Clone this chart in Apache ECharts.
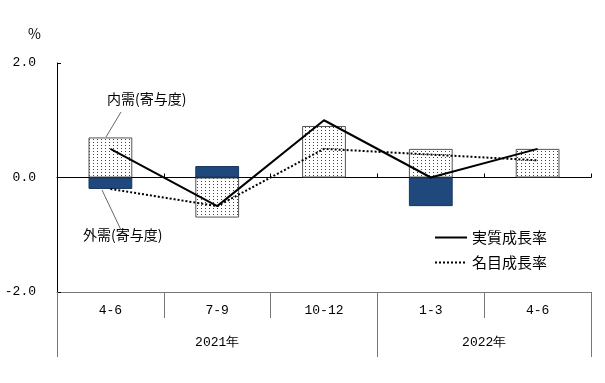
<!DOCTYPE html>
<html><head><meta charset="utf-8">
<script src="https://cdn.jsdelivr.net/npm/echarts@6/dist/echarts.min.js"></script>
<style>html,body{margin:0;padding:0;background:#fff}#c{width:605px;height:383px}</style>
</head><body><div id="c"></div>
<script>
const categories = ['4-6', '7-9', '10-12', '1-3', '4-6'];
const years = ['2021年', '2022年'];
const yearSpans = [3, 2];
const domestic = [0.7, -0.7, 0.9, 0.5, 0.5];
const external = [-0.2, 0.2, 0, -0.5, 0];
const realGrowth = [0.5, -0.5, 1.0, 0.0, 0.5];
const nominalGrowth = [-0.2, -0.5, 0.5, 0.4, 0.3];
const yMin = -2, yMax = 2, yStep = 2;

// year boundaries / centres derived from spans
const yearBounds = [0];
yearSpans.forEach(s => yearBounds.push(yearBounds[yearBounds.length - 1] + s));
const yearCenters = yearSpans.map((s, i) => yearBounds[i] + s / 2);

// dotted pattern for domestic demand bars
const pc = document.createElement('canvas');
pc.width = 4; pc.height = 3;
const pctx = pc.getContext('2d');
pctx.fillStyle = '#ffffff'; pctx.fillRect(0, 0, 4, 3);
pctx.fillStyle = '#444444'; pctx.fillRect(1, 1, 1, 1);

const numFont = 'Liberation Mono';
const jpFont = 'Noto Sans CJK JP';

const chart = echarts.init(document.getElementById('c'));
chart.setOption({
  animation: false,
  title: { text: '%', left: 23, top: 22, textStyle: { fontSize: 14, fontWeight: 'normal', fontFamily: jpFont, color: '#000' } },
  grid: { left: 57, right: 14, top: 63, bottom: 91, containLabel: false },
  legend: {
    orient: 'vertical', left: 429, top: 225, itemWidth: 32, itemHeight: 12, itemGap: 10,
    itemStyle: { opacity: 0 },
    textStyle: { fontFamily: jpFont, fontSize: 15, color: '#000' },
    data: ['実質成長率', '名目成長率']
  },
  xAxis: [
    {
      type: 'category', data: categories, position: 'bottom',
      axisLine: { onZero: true, lineStyle: { color: '#000', width: 1 } },
      axisTick: { show: true, inside: true, length: 4, lineStyle: { color: '#000' } },
      axisLabel: { show: false }, splitLine: { show: false }
    },
    {
      type: 'category', data: categories, position: 'bottom',
      axisLine: { onZero: false, lineStyle: { color: '#777', width: 1 } },
      axisTick: { show: true, inside: false, length: 26, lineStyle: { color: '#777' } },
      axisLabel: { show: true, margin: 12, fontFamily: numFont, fontSize: 13, color: '#000' },
      splitLine: { show: false }
    },
    {
      type: 'value', min: 0, max: yearBounds[yearBounds.length - 1], position: 'bottom',
      axisLine: { show: false, onZero: false },
      axisTick: { show: true, length: 65, customValues: yearBounds, lineStyle: { color: '#777' } },
      axisLabel: {
        show: true, margin: 44, customValues: yearCenters, fontFamily: numFont, fontSize: 13, color: '#000',
        formatter: v => { const i = yearCenters.indexOf(v); return i >= 0 ? years[i] : ''; }
      },
      splitLine: { show: false }
    }
  ],
  yAxis: {
    type: 'value', min: yMin, max: yMax, interval: yStep,
    axisLine: { show: true, onZero: false, lineStyle: { color: '#000' } },
    axisTick: { show: true, inside: true, length: 4, lineStyle: { color: '#000' } },
    axisLabel: { margin: 21, fontFamily: numFont, fontSize: 13, color: '#000', formatter: v => v.toFixed(1) },
    splitLine: { show: false }
  },
  series: [
    {
      name: '内需(寄与度)', type: 'bar', stack: 'a', data: domestic, barWidth: '41%', xAxisIndex: 0,
      itemStyle: { color: { image: pc, repeat: 'repeat' }, borderColor: '#555', borderWidth: 1 }
    },
    {
      name: '外需(寄与度)', type: 'bar', stack: 'a', data: external.map(v => (v === 0 ? '-' : v)), barWidth: '41%', xAxisIndex: 0,
      itemStyle: { color: '#1F497D', borderColor: '#17375E', borderWidth: 1 }
    },
    {
      name: '実質成長率', type: 'line', data: realGrowth, xAxisIndex: 0, symbol: 'none', z: 5,
      lineStyle: { color: '#000', width: 2, type: 'solid' }, itemStyle: { color: '#000' }
    },
    {
      name: '名目成長率', type: 'line', data: nominalGrowth, xAxisIndex: 0, symbol: 'none', z: 5,
      lineStyle: { color: '#000', width: 2, type: [2, 2] }, itemStyle: { color: '#000' }
    }
  ],
  graphic: [
    { type: 'text', left: 107, top: 92, style: { text: '内需(寄与度)', font: '14px "Noto Sans CJK JP"', fill: '#000' } },
    { type: 'text', left: 83, top: 228, style: { text: '外需(寄与度)', font: '14px "Noto Sans CJK JP"', fill: '#000' } },
    { type: 'line', shape: { x1: 121, y1: 112, x2: 106, y2: 137 }, style: { stroke: '#666', lineWidth: 1 } },
    { type: 'line', shape: { x1: 102, y1: 190, x2: 121, y2: 230 }, style: { stroke: '#666', lineWidth: 1 } }
  ]
});
</script></body></html>
